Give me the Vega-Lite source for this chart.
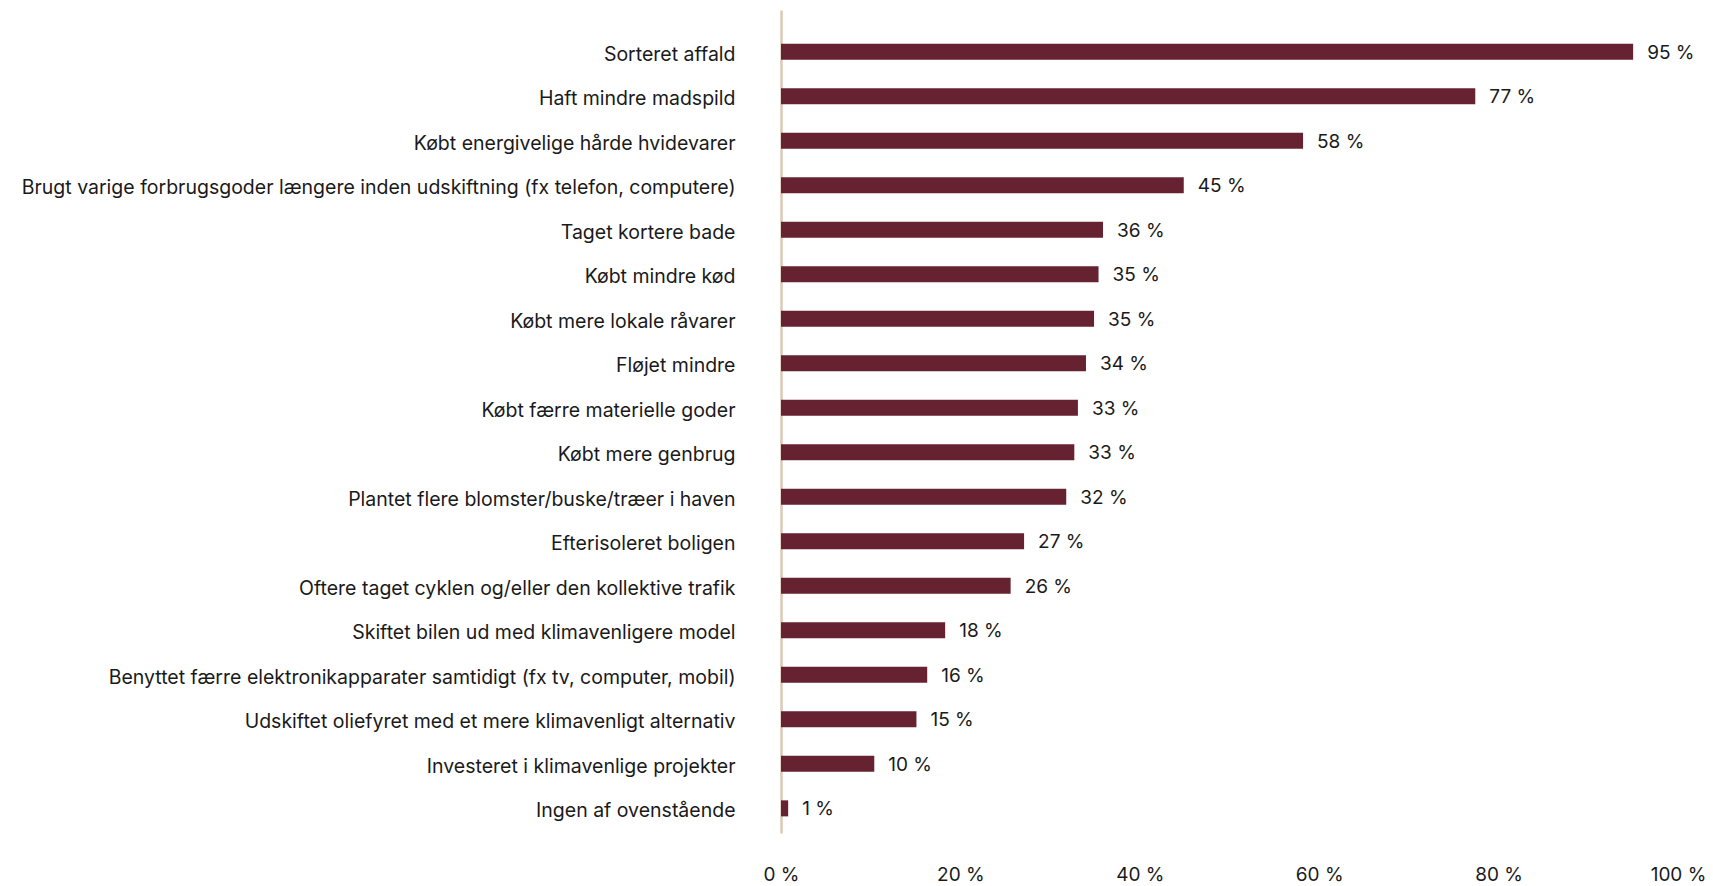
{
  "$schema": "https://vega.github.io/schema/vega-lite/v6.json",
  "width": 897,
  "height": 823,
  "autosize": "none",
  "padding": {"left": 781, "top": 10, "right": 35, "bottom": 53},
  "background": "white",
  "config": {"view": {"stroke": null}, "font": "Inter"},
  "data": {"values": [
    {"c": "Sorteret affald", "v": 95},
    {"c": "Haft mindre madspild", "v": 77.4},
    {"c": "Købt energivelige hårde hvidevarer", "v": 58.2},
    {"c": "Brugt varige forbrugsgoder længere inden udskiftning (fx telefon, computere)", "v": 44.9},
    {"c": "Taget kortere bade", "v": 35.9},
    {"c": "Købt mindre kød", "v": 35.4},
    {"c": "Købt mere lokale råvarer", "v": 34.9},
    {"c": "Fløjet mindre", "v": 34},
    {"c": "Købt færre materielle goder", "v": 33.1},
    {"c": "Købt mere genbrug", "v": 32.7},
    {"c": "Plantet flere blomster/buske/træer i haven", "v": 31.8},
    {"c": "Efterisoleret boligen", "v": 27.1},
    {"c": "Oftere taget cyklen og/eller den kollektive trafik", "v": 25.6},
    {"c": "Skiftet bilen ud med klimavenligere model", "v": 18.3},
    {"c": "Benyttet færre elektronikapparater samtidigt (fx tv, computer, mobil)", "v": 16.3},
    {"c": "Udskiftet oliefyret med et mere klimavenligt alternativ", "v": 15.1},
    {"c": "Investeret i klimavenlige projekter", "v": 10.4},
    {"c": "Ingen af ovenstående", "v": 0.8}
  ]},
  "encoding": {
    "y": {"field": "c", "type": "nominal", "sort": null, "title": null,
      "scale": {"paddingInner": 0.64, "paddingOuter": 0.566, "align": 0.67},
      "axis": {"domainColor": "#dccab6", "domainWidth": 2.5, "ticks": false, "labelPadding": 46, "labelOffset": 3,
        "labelFontSize": 19.5, "labelColor": "#1a1a1a", "labelFont": "Inter", "labelLimit": 800}},
    "x": {"field": "v", "type": "quantitative", "title": null,
      "scale": {"domain": [0, 100], "nice": false},
      "axis": {"values": [0, 20, 40, 60, 80, 100], "labelExpr": "datum.value + ' %'", "grid": false,
        "domain": false, "ticks": false, "labelPadding": 32, "labelFontSize": 19, "labelColor": "#1a1a1a",
        "labelFont": "Inter", "labelFlush": false}}
  },
  "layer": [
    {"mark": {"type": "bar", "color": "#662230"}},
    {"mark": {"type": "text", "align": "left", "dx": 14, "dy": 1, "fontSize": 19, "color": "#1a1a1a", "font": "Inter",
      "text": {"expr": "round(datum.v) + ' %'"}}}
  ]
}
